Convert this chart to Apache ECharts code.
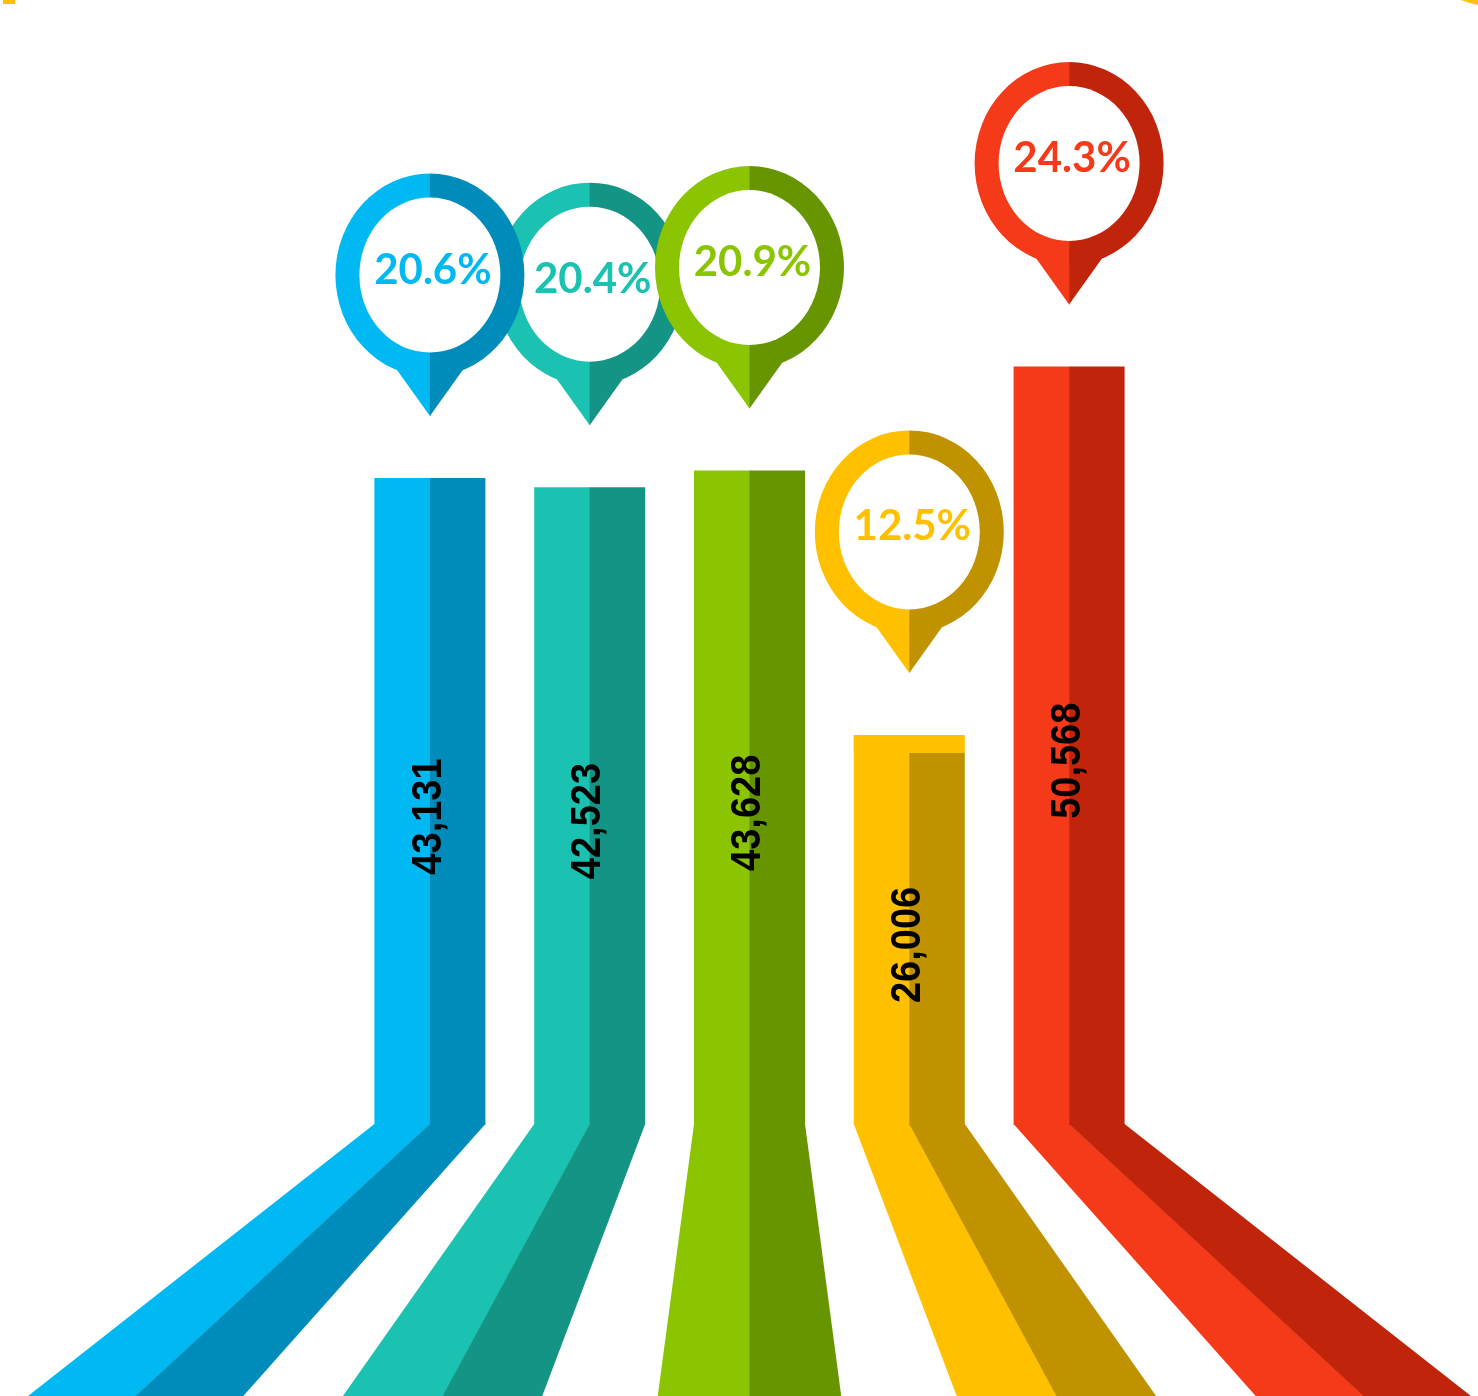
<!DOCTYPE html>
<html>
<head>
<meta charset="utf-8">
<script src="https://cdn.jsdelivr.net/npm/echarts@6/dist/echarts.min.js"></script>
<style>
html,body{margin:0;padding:0;background:#ffffff;}
#chart{width:1478px;height:1396px;}
</style>
</head>
<body>
<div id="chart"></div>
<script>
// ---------- data ----------
const categories = ['Item 1', 'Item 2', 'Item 3', 'Item 4', 'Item 5'];
const values = [43131, 42523, 43628, 26006, 50568];
const shares = [20.6, 20.4, 20.9, 12.5, 24.3];

// ---------- styles ----------
const lightColors = ['#00B9F2', '#1BC1B1', '#8BC400', '#FFC000', '#F43A19'];
const darkColors  = ['#008CBA', '#149485', '#669500', '#C09200', '#C0250C'];
const capStrip = [0, 0, 0, 18, 0];       // light strip across top (yellow quirk)
const pinOrder = [5, 1, 3, 2, 4];        // stacking of overlapping pins
const BAR_HALF = 55.5;
const FAN_STEP = 308;
const PIN_GAP = 62;

function fmt(n) { return n.toString().replace(/\B(?=(\d{3})+(?!\d))/g, ','); }

function renderBar(params, api) {
  const i = params.dataIndex;
  const v = api.value(1);
  const top = api.coord([i, v]);
  const base = api.coord([i, 0]);
  const cx = top[0];
  const H = api.getHeight();
  const mid = api.coord([2, 0])[0];
  const bc = mid + (i - 2) * FAN_STEP;
  const bh = 92 + Math.abs(i - 2) * 8;
  const h = base[1] - top[1];
  const s = capStrip[i];
  const L = lightColors[i], D = darkColors[i];
  return {
    type: 'group',
    children: [
      { type: 'polygon', shape: { points: [[cx - BAR_HALF, base[1] - 1], [cx + 0.5, base[1] - 1], [bc + 0.5, H + 2], [bc - bh, H + 2]] }, style: { fill: L } },
      { type: 'polygon', shape: { points: [[cx, base[1] - 1], [cx + BAR_HALF, base[1] - 1], [bc + bh, H + 2], [bc, H + 2]] }, style: { fill: D } },
      { type: 'rect', shape: { x: cx - BAR_HALF, y: top[1], width: BAR_HALF + 0.5, height: h }, style: { fill: L } },
      { type: 'rect', shape: { x: cx, y: top[1] + s, width: BAR_HALF, height: h - s }, style: { fill: D } },
      { type: 'rect', shape: { x: cx - BAR_HALF, y: top[1], width: BAR_HALF * 2, height: s }, style: { fill: L }, invisible: s === 0 },
      {
        type: 'group', x: cx - 1, y: (top[1] + base[1]) / 2 + 15, rotation: Math.PI / 2,
        children: [{
          type: 'text', scaleY: 1.12,
          style: { text: fmt(v), fill: '#000000', font: 'bold 38px Arial, "Liberation Sans", Helvetica, sans-serif', align: 'center', verticalAlign: 'middle' }
        }]
      }
    ]
  };
}

function renderPin(params, api) {
  const i = params.dataIndex;
  const top = api.coord([i, api.value(1)]);
  const cx = top[0];
  const tip = top[1] - PIN_GAP;
  const cy = tip - 141;
  const rx = 94.5, ry = 101.5, irx = 70.5, iry = 77.5;
  const L = lightColors[i], D = darkColors[i];
  const z = pinOrder[i] * 10;
  return {
    type: 'group',
    children: [
      { type: 'path', z2: z, shape: { pathData: 'M' + (cx + 0.5) + ',' + (cy - ry) + ' L' + cx + ',' + (cy - ry) + ' A' + rx + ',' + ry + ' 0 0 0 ' + cx + ',' + (cy + ry) + ' L' + (cx + 0.5) + ',' + (cy + ry) + ' Z' }, style: { fill: L } },
      { type: 'path', z2: z, shape: { pathData: 'M' + cx + ',' + (cy - ry) + ' A' + rx + ',' + ry + ' 0 0 1 ' + cx + ',' + (cy + ry) + ' Z' }, style: { fill: D } },
      { type: 'polygon', z2: z, shape: { points: [[cx - 40, cy + 85], [cx + 0.5, cy + 85], [cx + 0.5, tip], [cx, tip]] }, style: { fill: L } },
      { type: 'polygon', z2: z, shape: { points: [[cx, cy + 85], [cx + 40, cy + 85], [cx, tip]] }, style: { fill: D } },
      { type: 'path', z2: z + 1, shape: { pathData: 'M' + (cx - irx) + ',' + cy + ' A' + irx + ',' + iry + ' 0 1 0 ' + (cx + irx) + ',' + cy + ' A' + irx + ',' + iry + ' 0 1 0 ' + (cx - irx) + ',' + cy + ' Z' }, style: { fill: '#ffffff' } },
      {
        type: 'text', z2: z + 2, x: cx + 3, y: cy - 5,
        style: { text: shares[i].toFixed(1) + '%', fill: L, fontFamily: 'Lato', fontWeight: 'bold', fontSize: 42, align: 'center', verticalAlign: 'middle' }
      }
    ]
  };
}

const seriesData = categories.map((c, i) => [i, values[i]]);

const chart = echarts.init(document.getElementById('chart'), null, { renderer: 'canvas' });
chart.setOption({
  animation: false,
  backgroundColor: '#ffffff',
  grid: { left: 350, width: 799, top: 0, bottom: 271, containLabel: false },
  xAxis: { type: 'category', data: categories, show: false },
  yAxis: { type: 'value', min: 0, max: 75000, show: false },
  graphic: [
    { type: 'rect', left: 3, top: 0, shape: { width: 12, height: 4 }, style: { fill: '#FFC000' } },
    { type: 'polygon', shape: { points: [[1461, 0], [1478, 0], [1478, 5], [1470, 3]] }, style: { fill: '#FFC000' } }
  ],
  series: [
    { type: 'custom', clip: false, renderItem: renderBar, data: seriesData, z: 2 },
    { type: 'custom', clip: false, renderItem: renderPin, data: seriesData, z: 3 }
  ]
});
</script>
</body>
</html>
